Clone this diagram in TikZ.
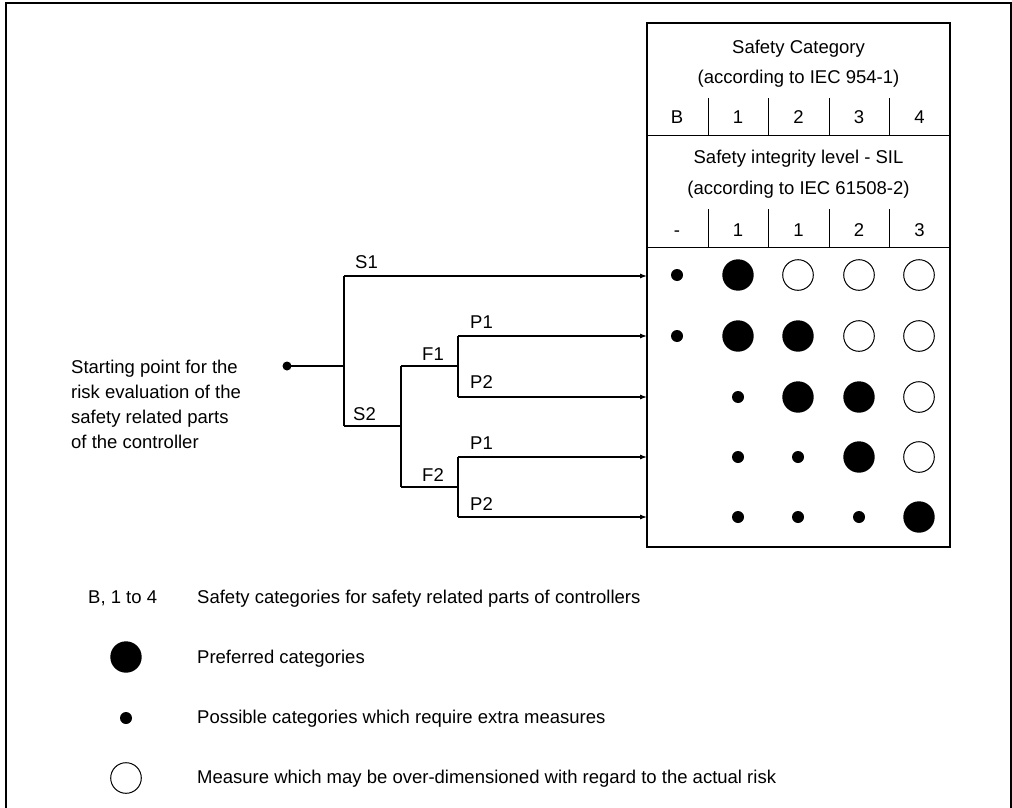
\documentclass[tikz,border=0pt]{standalone}
\usepackage{fontspec}
\setmainfont{Liberation Sans}
\usetikzlibrary{arrows.meta}
\begin{document}
\begin{tikzpicture}[x=1pt,y=-1pt,
  font=\fontsize{18.5}{22}\selectfont,
  lbl/.style={inner sep=0pt, text height=13.2pt, text depth=0pt},
  wire/.style={line width=1.1pt},
  arr/.style={wire, -{Latex[length=7pt,width=5pt]}},
  big/.style={fill=black, draw=none},
  opn/.style={draw=black, line width=1pt, fill=white},
]
\useasboundingbox (0,0) rectangle (1012,808);
% outer frame (open at bottom)
\draw[line width=2.2pt] (6,808) -- (6,3) -- (1011,3) -- (1011,808);

% table
\draw[line width=1.3pt] (647,23) rectangle (950,547);
\draw[line width=1pt] (647,135) -- (950,135);
\draw[line width=1pt] (647,247) -- (950,247);
\foreach \x in {708,768,829,889}{
  \draw[line width=1pt] (\x,98) -- (\x,135);
  \draw[line width=1pt] (\x,209) -- (\x,247);
}
\node[lbl] (hc1) at (798.5,47) {Safety Category};
\node[lbl] (hc2) at (798.5,77) {(according to IEC 954-1)};
\node[lbl] (cB) at (677,117) {B};
\node[lbl] (c1) at (738,117) {1};
\node[lbl] (c2) at (798.5,117) {2};
\node[lbl] (c3) at (859,117) {3};
\node[lbl] (c4) at (919.5,117) {4};
\node[lbl] (hs1) at (798.5,157) {Safety integrity level - SIL};
\node[lbl] (hs2) at (798.5,188) {(according to IEC 61508-2)};
\node[lbl] (s0) at (677,230) {-};
\node[lbl] (s1n) at (738,230) {1};
\node[lbl] (s2n) at (798.5,230) {1};
\node[lbl] (s3n) at (859,230) {2};
\node[lbl] (s4n) at (919.5,230) {3};

% matrix of circles
% row 1
\fill (677,275) circle[radius=6pt];
\fill (738,275) circle[radius=15.7pt];
\draw[opn] (798,275) circle[radius=15.3pt];
\draw[opn] (859,275) circle[radius=15.3pt];
\draw[opn] (919,275) circle[radius=15.3pt];
% row 2
\fill (677,336) circle[radius=6pt];
\fill (738,336) circle[radius=15.7pt];
\fill (798,336) circle[radius=15.7pt];
\draw[opn] (859,336) circle[radius=15.3pt];
\draw[opn] (919,336) circle[radius=15.3pt];
% row 3
\fill (738,397) circle[radius=6pt];
\fill (798,397) circle[radius=15.7pt];
\fill (859,397) circle[radius=15.7pt];
\draw[opn] (919,397) circle[radius=15.3pt];
% row 4
\fill (738,457) circle[radius=6pt];
\fill (798,457) circle[radius=6pt];
\fill (859,457) circle[radius=15.7pt];
\draw[opn] (919,457) circle[radius=15.3pt];
% row 5
\fill (738,517) circle[radius=6pt];
\fill (798,517) circle[radius=6pt];
\fill (859,517) circle[radius=6pt];
\fill (919,517) circle[radius=15.7pt];

% decision tree
\node[circle, fill=black, inner sep=0pt, minimum size=9pt] (start) at (287,366) {};
\coordinate (j1) at (344,366);
\coordinate (sa) at (344,276);
\coordinate (sb) at (344,426);
\coordinate (j2) at (401,426);
\coordinate (fa) at (401,366);
\coordinate (fb) at (401,487);
\coordinate (ka) at (458,366);
\coordinate (kaa) at (458,336);
\coordinate (kab) at (458,397);
\coordinate (kb) at (458,487);
\coordinate (kba) at (458,457);
\coordinate (kbb) at (458,517);
\coordinate (t1) at (647,276);
\coordinate (t2) at (647,336);
\coordinate (t3) at (647,397);
\coordinate (t4) at (647,457);
\coordinate (t5) at (647,517);

\draw[wire] (start.center) -- (j1);
\draw[wire] (sa) -- (sb);
\draw[arr] (sa) -- (t1);
\draw[wire] (sb) -- (j2);
\draw[wire] (fa) -- (fb);
\draw[wire] (fa) -- (ka);
\draw[wire] (kaa) -- (kab);
\draw[arr] (kaa) -- (t2);
\draw[arr] (kab) -- (t3);
\draw[wire] (fb) -- (kb);
\draw[wire] (kba) -- (kbb);
\draw[arr] (kba) -- (t4);
\draw[arr] (kbb) -- (t5);

\node[lbl, anchor=west] (lS1) at (355,262) {S1};
\node[lbl, anchor=west] (lS2) at (353,414) {S2};
\node[lbl, anchor=west] (lF1) at (422,354) {F1};
\node[lbl, anchor=west] (lF2) at (422,475) {F2};
\node[lbl, anchor=west] (lP1a) at (470,322) {P1};
\node[lbl, anchor=west] (lP2a) at (470,382) {P2};
\node[lbl, anchor=west] (lP1b) at (470,443) {P1};
\node[lbl, anchor=west] (lP2b) at (470,504) {P2};

% starting text
\node[lbl, anchor=west] (st1) at (71,367) {Starting point for the};
\node[lbl, anchor=west] (st2) at (71,392) {risk evaluation of the};
\node[lbl, anchor=west] (st3) at (71,417) {safety related parts};
\node[lbl, anchor=west] (st4) at (71,442) {of the controller};

% legend
\node[lbl, anchor=west] (lgB) at (88,597) {B, 1 to 4};
\node[lbl, anchor=west] (lgBt) at (197,597) {Safety categories for safety related parts of controllers};
\fill (126,657) circle[radius=15.7pt];
\node[lbl, anchor=west] (lg1) at (197,657) {Preferred categories};
\fill (126,718) circle[radius=6pt];
\node[lbl, anchor=west] (lg2) at (197,717) {Possible categories which require extra measures};
\draw[opn] (126,778) circle[radius=15.3pt];
\node[lbl, anchor=west] (lg3) at (197,777) {Measure which may be over-dimensioned with regard to the actual risk};
\end{tikzpicture}
\end{document}
